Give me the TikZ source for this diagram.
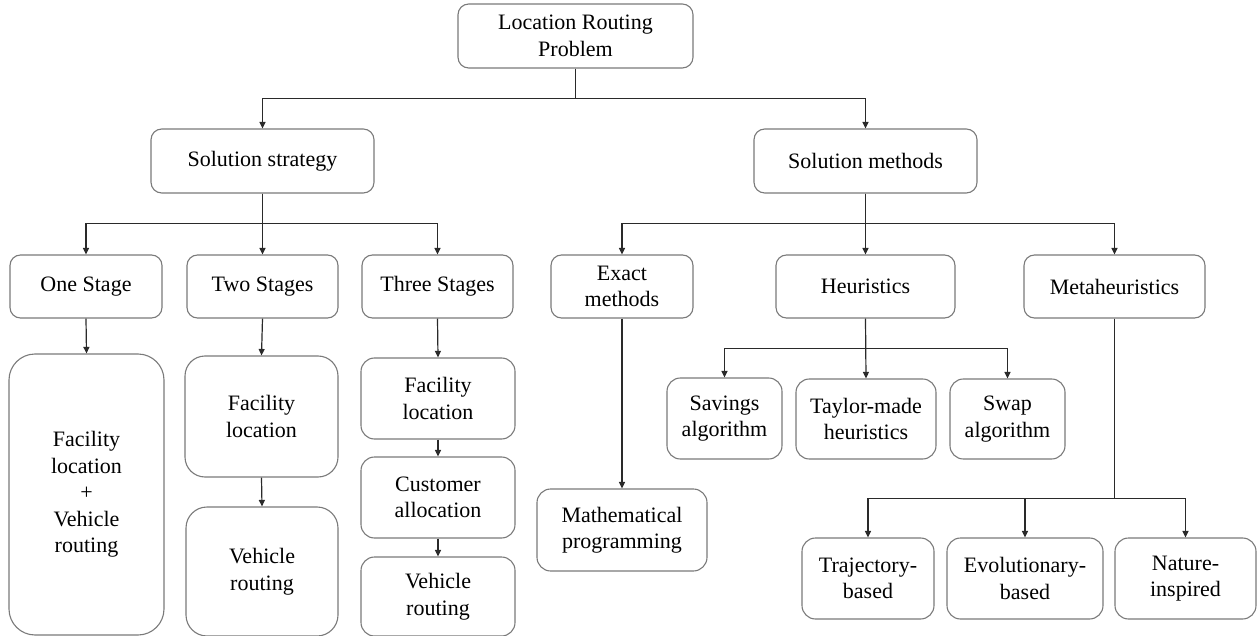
\documentclass[tikz,border=0pt]{standalone}
\usepackage{fontspec}
\setmainfont{Liberation Serif}
\usetikzlibrary{arrows.meta}
\definecolor{boxgray}{HTML}{7A7A7A}
\definecolor{linegray}{HTML}{2A2A2A}
\tikzset{
  box/.style={draw=boxgray, line width=1.1pt, rounded corners=#1, inner sep=0pt,
    align=center, text=black, font=\fontsize{22}{26.5}\selectfont},
  box/.default=10.5pt,
  conn/.style={draw=linegray, line width=1.2pt, -{Triangle[length=6.5pt,width=6pt]}},
  plain/.style={draw=linegray, line width=1.2pt}
}
\newcommand{\bx}[7]{\node[box=#7, minimum width={#4-#2}, minimum height={#5-#3}] (#1) at ({(#2+#4)/2},{(#3+#5)/2}) {#6};}
\begin{document}
\begin{tikzpicture}[x=1pt,y=-1pt]
\useasboundingbox (0,0) rectangle (1258,636);
% level 0
\bx{lrp}{458}{4}{693}{68}{Location Routing\\Problem}{10.7pt}
% level 1
\bx{ss}{151}{129}{374}{193}{Solution strategy}{10.7pt}
\bx{sm}{754}{129}{977}{193}{Solution methods}{10.7pt}
% level 2
\bx{one}{10}{255}{162}{318}{One Stage}{10.5pt}
\bx{two}{187}{255}{338}{318}{Two Stages}{10.5pt}
\bx{three}{362}{255}{513}{318}{Three Stages}{10.5pt}
\bx{exact}{551}{255}{693}{318}{Exact\\methods}{10.5pt}
\bx{heur}{776}{255}{955}{318}{Heuristics}{10.5pt}
\bx{meta}{1024}{255}{1205}{318}{Metaheuristics}{10.5pt}
% strategy children
\bx{oneC}{9}{354}{164}{635}{Facility\\location\\+\\Vehicle\\routing}{26pt}
\bx{twoF}{185}{356}{338}{477}{Facility\\location}{20pt}
\bx{twoV}{186}{507}{338}{636}{Vehicle\\routing}{21pt}
\bx{thrF}{361}{358}{515}{439}{Facility\\location}{13.5pt}
\bx{thrC}{361}{457}{515}{538}{Customer\\allocation}{13.5pt}
\bx{thrV}{361}{557}{515}{636}{Vehicle\\routing}{13.5pt}
% methods children
\bx{math}{537}{489}{707}{571}{Mathematical\\programming}{13.7pt}
\bx{sav}{667}{378}{782}{459}{Savings\\algorithm}{13.4pt}
\bx{tay}{796}{379}{936}{459}{Taylor-made\\heuristics}{13.4pt}
\bx{swp}{950}{379}{1065}{459}{Swap\\algorithm}{13.4pt}
\bx{traj}{802}{538}{934}{619}{Trajectory-\\based}{13.5pt}
\bx{evo}{947}{538}{1103}{619}{Evolutionary-\\based}{13.5pt}
\bx{nat}{1115}{538}{1256}{619}{Nature-\\inspired}{13.5pt}
% connectors
\draw[conn] (lrp.south) -- ++(0,30) -| (ss.north);
\draw[conn] (lrp.south) -- ++(0,30) -| (sm.north);
\draw[conn] (ss.south) -- ++(0,30) -| (one.north);
\draw[conn] (ss.south) -- (two.north);
\draw[conn] (ss.south) -- ++(0,30) -| (three.north);
\draw[conn] (sm.south) -- ++(0,30) -| (exact.north);
\draw[conn] (sm.south) -- (heur.north);
\draw[conn] (sm.south) -- ++(0,30) -| (meta.north);
\draw[conn] (one.south) -- (oneC.north);
\draw[conn] (two.south) -- (twoF.north);
\draw[conn] (twoF.south) -- (twoV.north);
\draw[conn] (three.south) -- (thrF.north);
\draw[conn] (thrF.south) -- (thrC.north);
\draw[conn] (thrC.south) -- (thrV.north);
\draw[conn] (exact.south) -- (math.north);
\draw[conn] (heur.south) -- ++(0,30) -| (sav.north);
\draw[conn] (heur.south) -- (tay.north);
\draw[conn] (heur.south) -- ++(0,30) -| (swp.north);
\draw[conn] (meta.south) -- ++(0,180) -| (traj.north);
\draw[conn] (meta.south) -- ++(0,180) -| (evo.north);
\draw[conn] (meta.south) -- ++(0,180) -| (nat.north);
\end{tikzpicture}
\end{document}
